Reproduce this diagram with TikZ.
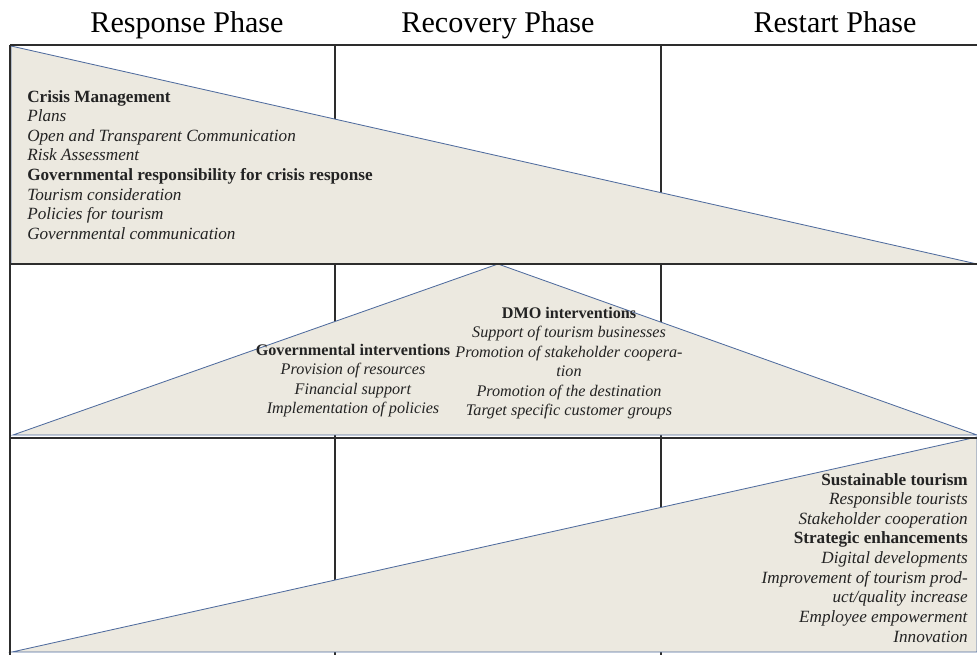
\documentclass[tikz,border=0pt]{standalone}
\usepackage{fontspec}
\setmainfont{Liberation Serif}
\usepackage{xcolor}
\definecolor{phbeige}{RGB}{236,233,224}
\definecolor{phedge}{RGB}{80,108,158}
\definecolor{phgrid}{RGB}{45,45,45}
\definecolor{phtext}{RGB}{35,35,35}
\usepackage{tikz}

\begin{document}
\begin{tikzpicture}[x=0.025cm, y=-0.025cm,
  phase/.style={font=\fontsize{21.4}{24}\selectfont, anchor=base, inner sep=0pt},
  gridline/.style={draw=phgrid, line width=1pt},
  wedge/.style={fill=phbeige, draw=phedge, line width=0.6pt},
  itembox/.style={font=\fontsize{12.2}{13.94}\selectfont, text=phtext, inner sep=0pt},
  peakbox/.style={itembox, font=\fontsize{11.5}{13.8}\selectfont, anchor=north, align=center}]
  \useasboundingbox (0,0) rectangle (977,655);

  % Phase headings
  \node[phase] (response) at (187,33) {Response Phase};
  \node[phase] (recovery) at (498,33) {Recovery Phase};
  \node[phase] (restart) at (835,33) {Restart Phase};

  % Inner column lines (under the wedges)
  \draw[gridline] (335,45) -- (335,655);
  \draw[gridline] (661,45) -- (661,655);

  % --- Wedge 1: response (shrinking) ---
  \filldraw[wedge] (11,46) -- (977,264) -- (11,264) -- cycle;

  % --- Wedge 2: recovery (peak) ---
  \filldraw[wedge] (498,264) -- (977,435) -- (13,435) -- cycle;

  % --- Wedge 3: restart (growing) ---
  \filldraw[wedge] (12,652) -- (977,437) -- (977,652) -- cycle;

  % Outer grid lines
  \draw[gridline] (10,45) -- (10,655);
  \foreach \gy in {45,264,438}
    \draw[gridline] (10,\gy) -- (977,\gy);

  % Wedge texts
  \node[itembox, anchor=north west, align=left] (crisis) at (27,90)
    {\textbf{Crisis Management}\\
     \textit{Plans}\\
     \textit{Open and Transparent Communication}\\
     \textit{Risk Assessment}\\
     \textbf{Governmental responsibility for crisis response}\\
     \textit{Tourism consideration}\\
     \textit{Policies for tourism}\\
     \textit{Governmental communication}};

  \node[peakbox] (govint) at (353,344)
    {\textbf{Governmental interventions}\\
     \textit{Provision of resources}\\
     \textit{Financial support}\\
     \textit{Implementation of policies}};

  \node[peakbox] (dmoint) at (569,307)
    {\textbf{DMO interventions}\\
     \textit{Support of tourism businesses}\\
     \textit{Promotion of stakeholder coopera-}\\
     \textit{tion}\\
     \textit{Promotion of the destination}\\
     \textit{Target specific customer groups}};

  \node[itembox, anchor=north east, align=right] (sustain) at (968,473)
    {\textbf{Sustainable tourism}\\
     \textit{Responsible tourists}\\
     \textit{Stakeholder cooperation}\\
     \textbf{Strategic enhancements}\\
     \textit{Digital developments}\\
     \textit{Improvement of tourism prod-}\\
     \textit{uct/quality increase}\\
     \textit{Employee empowerment}\\
     \textit{Innovation}};
\end{tikzpicture}
\end{document}
